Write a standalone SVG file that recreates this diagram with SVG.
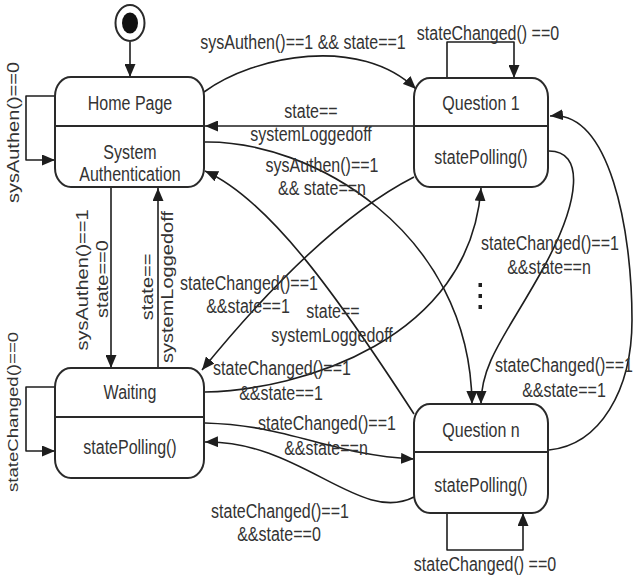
<svg xmlns="http://www.w3.org/2000/svg" width="634" height="576" viewBox="0 0 634 576">
<style>
.box{fill:#fff;stroke:#2a2a2a;stroke-width:2}
.div{stroke:#2a2a2a;stroke-width:2}
.c{fill:none;stroke:#1e1e1e;stroke-width:1.6;stroke-linejoin:round}
.t{font-family:"Liberation Sans",Arial,sans-serif;font-size:20px;fill:#333;text-anchor:middle;dominant-baseline:central}
</style>
<defs>
<marker id="arr" viewBox="0 0 13 11" refX="13" refY="5.5" markerWidth="13" markerHeight="11" orient="auto" markerUnits="userSpaceOnUse">
<path d="M0,0 L13,5.5 L0,11 z" fill="#1e1e1e"/>
</marker>
</defs>
<rect width="634" height="576" fill="#fff"/>
<g id="connectors">
<path class="c" d="M130,42 V77" marker-end="url(#arr)"/>
<path class="c" d="M55,96 H26 V160 H55" marker-end="url(#arr)"/>
<path class="c" d="M447,78 V42 H514 V78" marker-end="url(#arr)"/>
<path class="c" d="M55,387 H26 V451 H55" marker-end="url(#arr)"/>
<path class="c" d="M447,513 V550 H523 V513" marker-end="url(#arr)"/>
<path class="c" d="M204,92 C255,55 360,35 416,89" marker-end="url(#arr)"/>
<path class="c" d="M414,126 H205" marker-end="url(#arr)"/>
<path class="c" d="M204,142 C310,140 470,230 472,404" marker-end="url(#arr)"/>
<path class="c" d="M414,414 C340,300 270,200 205,171" marker-end="url(#arr)"/>
<path class="c" d="M414,177 Q320,225 202,370" marker-end="url(#arr)"/>
<path class="c" d="M205,392 C300,390 470,340 481,188" marker-end="url(#arr)"/>
<path class="c" d="M205,423 C290,425 330,455 414,459" marker-end="url(#arr)"/>
<path class="c" d="M414,497 C360,525 300,440 205,442" marker-end="url(#arr)"/>
<path class="c" d="M548,151 C585,150 580,200 545,265 C510,330 481,360 481,404" marker-end="url(#arr)"/>
<path class="c" d="M549,450 C600,445 632,390 632,320 C632,230 610,110 550,116" marker-end="url(#arr)"/>
<path class="c" d="M111,187 V368" marker-end="url(#arr)"/>
<path class="c" d="M158,368 V188" marker-end="url(#arr)"/>
<g fill="#1e1e1e">
<rect x="478.5" y="283" width="3.5" height="4"/>
<rect x="478.5" y="294" width="3.5" height="4"/>
<rect x="478.5" y="305" width="3.5" height="4"/>
</g>
</g>
<g id="initial">
<ellipse cx="130" cy="23" rx="14.5" ry="18" fill="#fff" stroke="#2a2a2a" stroke-width="2"/>
<ellipse cx="130" cy="23" rx="8" ry="10.5" fill="#111"/>
</g>
<g id="home">
<rect class="box" x="55" y="77" width="149" height="110" rx="16" ry="19"/>
<line class="div" x1="55" y1="126" x2="204" y2="126"/>
<text class="t" transform="translate(130,103) scale(0.8,1)">Home Page</text>
<text class="t" transform="translate(130,152) scale(0.8,1)">System</text>
<text class="t" transform="translate(130,174) scale(0.8,1)">Authentication</text>
</g>
<g id="question1">
<rect class="box" x="414" y="78" width="134" height="109" rx="16" ry="19"/>
<line class="div" x1="414" y1="126" x2="548" y2="126"/>
<text class="t" transform="translate(481,103) scale(0.8,1)">Question 1</text>
<text class="t" transform="translate(481,157) scale(0.8,1)">statePolling()</text>
</g>
<g id="waiting">
<rect class="box" x="55" y="368" width="149" height="110" rx="16" ry="19"/>
<line class="div" x1="55" y1="417" x2="204" y2="417"/>
<text class="t" transform="translate(130,392) scale(0.8,1)">Waiting</text>
<text class="t" transform="translate(130,447) scale(0.8,1)">statePolling()</text>
</g>
<g id="questionN">
<rect class="box" x="414" y="404" width="134" height="109" rx="16" ry="19"/>
<line class="div" x1="414" y1="452" x2="548" y2="452"/>
<text class="t" transform="translate(481,430) scale(0.8,1)">Question n</text>
<text class="t" transform="translate(481,485) scale(0.8,1)">statePolling()</text>
</g>
<g id="labels">
<text class="t" transform="translate(303,42) scale(0.8,1)">sysAuthen()==1 &amp;&amp; state==1</text>
<text class="t" transform="translate(488,33) scale(0.8,1)">stateChanged() ==0</text>
<text class="t" transform="translate(311,111) scale(0.8,1)">state==</text>
<text class="t" transform="translate(311,134) scale(0.8,1)">systemLoggedoff</text>
<text class="t" transform="translate(322,165) scale(0.8,1)">sysAuthen()==1</text>
<text class="t" transform="translate(322,188) scale(0.8,1)">&amp;&amp; state==n</text>
<text class="t" transform="translate(333,311) scale(0.8,1)">state==</text>
<text class="t" transform="translate(332,335) scale(0.8,1)">systemLoggedoff</text>
<text class="t" transform="translate(249,283) scale(0.8,1)">stateChanged()==1</text>
<text class="t" transform="translate(248,306) scale(0.8,1)">&amp;&amp;state==1</text>
<text class="t" transform="translate(282,368) scale(0.8,1)">stateChanged()==1</text>
<text class="t" transform="translate(281,393) scale(0.8,1)">&amp;&amp;state==1</text>
<text class="t" transform="translate(327,423) scale(0.8,1)">stateChanged()==1</text>
<text class="t" transform="translate(326,448) scale(0.8,1)">&amp;&amp;state==n</text>
<text class="t" transform="translate(280,511) scale(0.8,1)">stateChanged()==1</text>
<text class="t" transform="translate(279,534) scale(0.8,1)">&amp;&amp;state==0</text>
<text class="t" transform="translate(550,243) scale(0.8,1)">stateChanged()==1</text>
<text class="t" transform="translate(549,267) scale(0.8,1)">&amp;&amp;state==n</text>
<text class="t" transform="translate(564,365) scale(0.8,1)">stateChanged()==1</text>
<text class="t" transform="translate(564,390) scale(0.8,1)">&amp;&amp;state==1</text>
<text class="t" transform="translate(485,564) scale(0.8,1)">stateChanged() ==0</text>
<text class="t" transform="translate(13.5,132.5) scale(0.8,1) rotate(-90)">sysAuthen()==0</text>
<text class="t" style="font-size:18.6px" transform="translate(13.5,412) scale(0.8,1) rotate(-90)">stateChanged()==0</text>
<text class="t" transform="translate(82.5,280) scale(0.8,1) rotate(-90)">sysAuthen()==1</text>
<text class="t" transform="translate(102.5,279) scale(0.8,1) rotate(-90)">state==0</text>
<text class="t" transform="translate(148,287) scale(0.8,1) rotate(-90)">state==</text>
<text class="t" transform="translate(168,287) scale(0.8,1) rotate(-90)">systemLoggedoff</text>
</g>
</svg>
